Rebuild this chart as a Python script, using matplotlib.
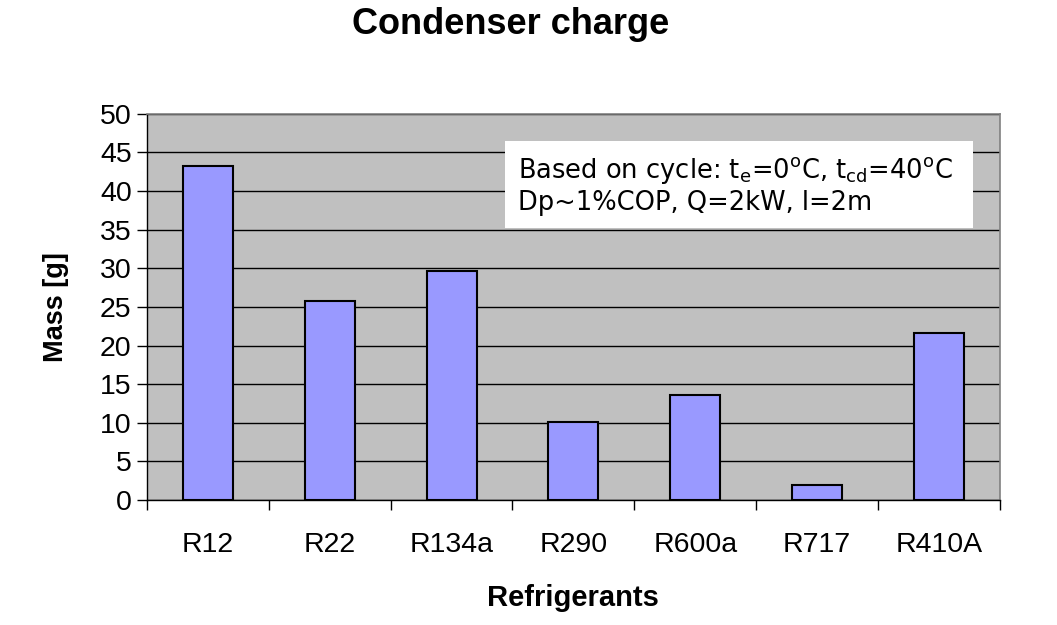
import matplotlib.pyplot as plt
import numpy as np
from matplotlib.patches import Rectangle

# Condenser charge per refrigerant
refrigerants = ['R12', 'R22', 'R134a', 'R290', 'R600a', 'R717', 'R410A']
mass_g = [43.2, 25.7, 29.6, 10.1, 13.6, 2.0, 21.6]
y_ticks = [0, 5, 10, 15, 20, 25, 30, 35, 40, 45, 50]

plt.rcParams['font.family'] = ['Liberation Sans', 'DejaVu Sans']

fig = plt.figure(figsize=(10.57, 6.25), dpi=100)
ax = fig.add_axes([0.139, 0.2, 0.807, 0.618])
ax.set_facecolor('#c0c0c0')

x = np.arange(len(refrigerants))
ax.bar(x, mass_g, width=0.41, color='#9999ff', edgecolor='black',
       linewidth=1.5, zorder=3)

ax.set_xlim(-0.5, len(refrigerants) - 0.5)
ax.set_ylim(0, 50)
ax.set_yticks(y_ticks)
ax.yaxis.grid(True, color='black', linewidth=1.0, zorder=0)
ax.set_axisbelow(True)

# category labels centred, tick marks on the category boundaries
ax.set_xticks(x)
ax.set_xticklabels(refrigerants, fontsize=20.5)
ax.tick_params(axis='x', which='major', length=0, pad=23)
ax.set_xticks(np.arange(-0.5, len(refrigerants)), minor=True)
ax.tick_params(axis='x', which='minor', length=7, width=1, direction='out')
ax.tick_params(axis='y', labelsize=20.5, length=7, width=1, direction='out', pad=4)

for side in ['top', 'right']:
    ax.spines[side].set_color('#808080')
    ax.spines[side].set_linewidth(1.2)
for side in ['left', 'bottom']:
    ax.spines[side].set_color('black')
    ax.spines[side].set_linewidth(1.0)

ax.set_ylabel('Mass [g]', fontsize=19.5, fontweight='bold', labelpad=22)
ax.set_xlabel('Refrigerants', fontsize=21, fontweight='bold', labelpad=19)
fig.text(0.483, 0.96, 'Condenser charge', ha='center', va='center',
         fontsize=26, fontweight='bold')

# annotation box
ax.add_patch(Rectangle((0.42, 0.704), 0.548, 0.226, transform=ax.transAxes,
                       facecolor='white', edgecolor='none', zorder=4))
note = (r'Based on cycle: t$_\mathregular{e}$=0$^\mathregular{o}$C, '
        r't$_\mathregular{cd}$=40$^\mathregular{o}$C' '\n'
        'Dp~1%COP, Q=2kW, l=2m')
ax.text(0.435, 0.815, note, transform=ax.transAxes, ha='left', va='center',
        fontsize=18.5, family='DejaVu Sans', linespacing=1.2, zorder=5)

fig.savefig('out.png', dpi=100)
